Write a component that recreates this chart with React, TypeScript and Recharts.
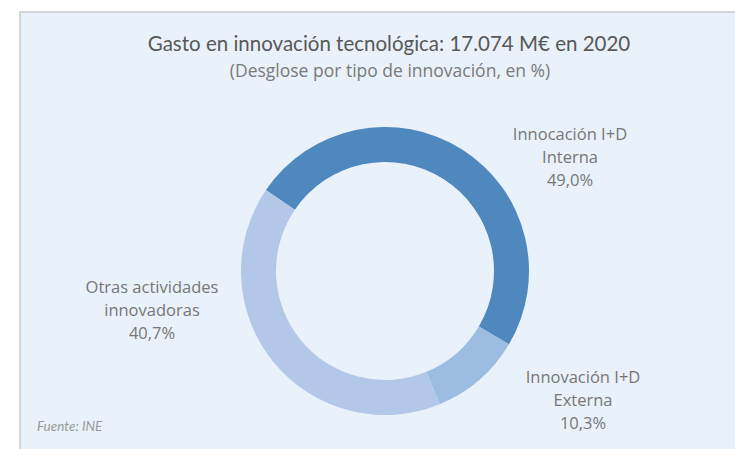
import { Cell, Pie, PieChart } from "recharts";

// slice order follows the ring clockwise from the upper-left boundary
const labelLines = [
  ["Innocación I+D", "Interna"],
  ["Innovación I+D", "Externa"],
  ["Otras actividades", "innovadoras"],
];
const shares = [49.0, 10.3, 40.7];
const colors = ["#4f88bf", "#9cbce2", "#b3c7e8"];

const data = shares.map((value, i) => ({ name: labelLines[i].join(" "), value }));

// label anchors relative to the pie centre (middle line of each block)
const labelOffsets = [
  { dx: 185, dy: -114 },
  { dx: 198, dy: 129 },
  { dx: -233, dy: 39 },
];

const fmt = (v: number) => v.toFixed(1).replace(".", ",") + "%";

const FONT = "Lato, 'Open Sans', sans-serif";
const LABEL_FONT = "'Open Sans', sans-serif";

function SliceLabel(props: any) {
  const { cx, cy, index } = props;
  const off = labelOffsets[index];
  const x = cx + off.dx;
  const y = cy + off.dy;
  const lines = [...labelLines[index], fmt(shares[index])];
  return (
    <text
      x={x}
      y={y - 23}
      textAnchor="middle"
      fill="#777777"
      fontSize={16.5}
      fontFamily={LABEL_FONT}
    >
      {lines.map((l, i) => (
        <tspan key={i} x={x} dy={i === 0 ? 6 : 23}>
          {l}
        </tspan>
      ))}
    </text>
  );
}

export default function App() {
  return (
    <div
      style={{
        position: "absolute",
        left: 0,
        top: 0,
        width: 735,
        height: 449,
        background: "#fff",
        overflow: "hidden",
        fontFamily: FONT,
      }}
    >
      <div
        style={{
          position: "absolute",
          left: 19,
          top: 11,
          right: 0,
          bottom: 0,
          background: "#e9f1fa",
          borderTop: "2px solid #d6d6d6",
          borderLeft: "2px solid #d6d6d6",
        }}
      />
      <div
        style={{
          position: "absolute",
          left: 0,
          width: 778,
          top: 31,
          lineHeight: "24px",
          fontSize: 20.5,
          color: "#585858",
          textAlign: "center",
        }}
      >
        Gasto en innovación tecnológica: 17.074 M€ en 2020
      </div>
      <div
        style={{
          position: "absolute",
          left: 0,
          width: 780,
          top: 58,
          lineHeight: "24px",
          fontSize: 17.5,
          fontFamily: LABEL_FONT,
          color: "#7a7a7a",
          textAlign: "center",
        }}
      >
        (Desglose por tipo de innovación, en %)
      </div>
      <PieChart
        width={735}
        height={449}
        margin={{ top: 0, right: 0, bottom: 0, left: 0 }}
        style={{ position: "absolute", left: 0, top: 0 }}
      >
        <Pie
          data={data}
          dataKey="value"
          nameKey="name"
          cx={385}
          cy={271}
          innerRadius={109}
          outerRadius={144}
          startAngle={145.8}
          endAngle={-214.2}
          stroke="none"
          label={SliceLabel}
          labelLine={false}
          isAnimationActive={false}
        >
          {data.map((d, i) => (
            <Cell key={d.name} fill={colors[i]} />
          ))}
        </Pie>
      </PieChart>
      <div
        style={{
          position: "absolute",
          left: 37,
          top: 417,
          lineHeight: "18px",
          fontSize: 13.5,
          fontStyle: "italic",
          color: "#9a9a9a",
        }}
      >
        Fuente: INE
      </div>
    </div>
  );
}
